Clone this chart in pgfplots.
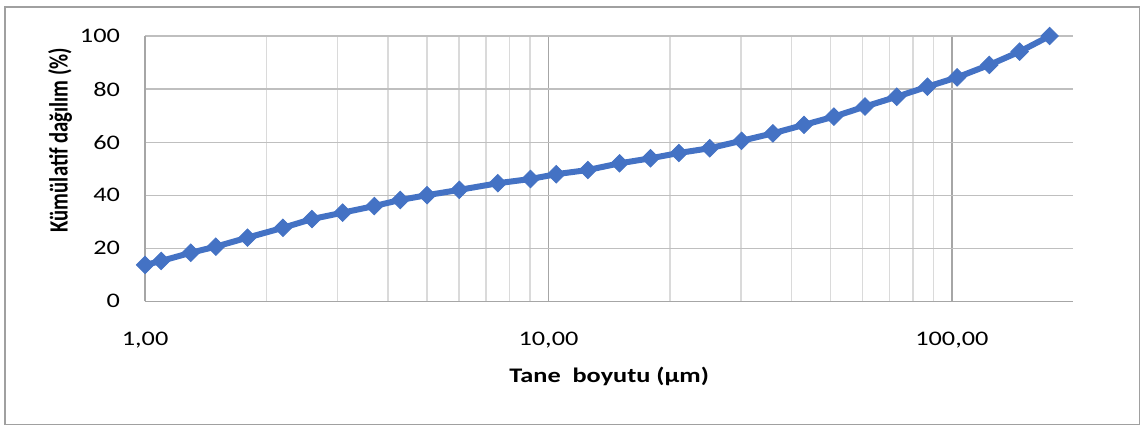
\documentclass[border=0pt]{standalone}
\usepackage{pgfplots}
\pgfplotsset{compat=1.18}
\usepackage{fontspec}
\setmainfont{Carlito}[FakeStretch=1.27]
\newfontfamily\yfont{Carlito}[FakeStretch=0.787]
\definecolor{serieblue}{HTML}{4472C4}
\definecolor{axisgray}{HTML}{A6A6A6}
\definecolor{gridmaj}{HTML}{BFBFBF}
\definecolor{gridmin}{HTML}{DADADA}
\definecolor{framegray}{HTML}{A0A0A0}

\pgfplotstableread{
size   cum
1.00   13.7
1.096  15.2
1.298  18.3
1.497  20.6
1.794  24.0
2.196  27.7
2.592  31.0
3.088  33.4
3.70   35.9
4.29   38.2
5.00   40.0
6.01   42.0
7.49   44.5
9.02   46.1
10.45  47.9
12.52  49.5
15.0   52.0
17.9   53.9
21.05  55.9
25.1   57.7
30.1   60.5
36.0   63.3
43.0   66.5
51.0   69.6
60.9   73.4
73.0   77.1
87.0   80.9
103.0  84.4
123.8  89.1
147.2  94.1
174.7  100.0
}\dist

\begin{document}
\begin{tikzpicture}
\useasboundingbox (0,0) rectangle (570pt,213.5pt);
\draw[framegray, line width=0.6pt] (2.5pt,1.35pt) rectangle (569.6pt,210pt);
\begin{axis}[
  at={(72.55pt,62.85pt)}, anchor=south west,
  scale only axis, width=464.1pt, height=132.65pt,
  xmode=log, xmin=1, xmax=200, ymin=0, ymax=100,
  xtick={1,10,100}, xticklabels={{1,00},{10,00},{100,00}},
  ytick={0,20,...,100},
  major tick length=0pt, minor tick length=0pt,
  xmajorgrids=true, xminorgrids=true, ymajorgrids=true,
  major x grid style={axisgray, line width=0.6pt},
  minor x grid style={gridmin, line width=0.75pt},
  major y grid style={gridmaj, line width=0.6pt},
  axis line style={draw=none},
  axis x line*=bottom, axis y line*=left,
  x axis line style={draw=axisgray, line width=0.7pt},
  y axis line style={draw=axisgray, line width=0.7pt},
  /pgf/number format/assume math mode=true,
  tick label style={font=\fontsize{10.35}{12}\selectfont, text=black},
  xticklabel style={anchor=base, yshift=-22pt},
  yticklabel style={anchor=east, xshift=-9.05pt},
  xlabel={Tane\ \ boyutu (µm)},
  ylabel={Kümülatif dağılım (\%)},
  xlabel style={font=\fontsize{10.35}{12}\selectfont\bfseries, at={(axis description cs:0.5,0)}, anchor=base, yshift=-40.5pt},
  ylabel style={font=\yfont\fontsize{13.15}{15}\selectfont\bfseries, at={(axis description cs:-0.0917,0.608)}, anchor=center},
  clip=false,
]
\addplot[serieblue, line width=3pt, mark=square*, mark size=3.1pt,
  mark options={rotate=45, fill=serieblue, draw=serieblue, line width=0.4pt, solid}]
  table[x=size, y=cum] {\dist};
\end{axis}
\end{tikzpicture}
\end{document}
